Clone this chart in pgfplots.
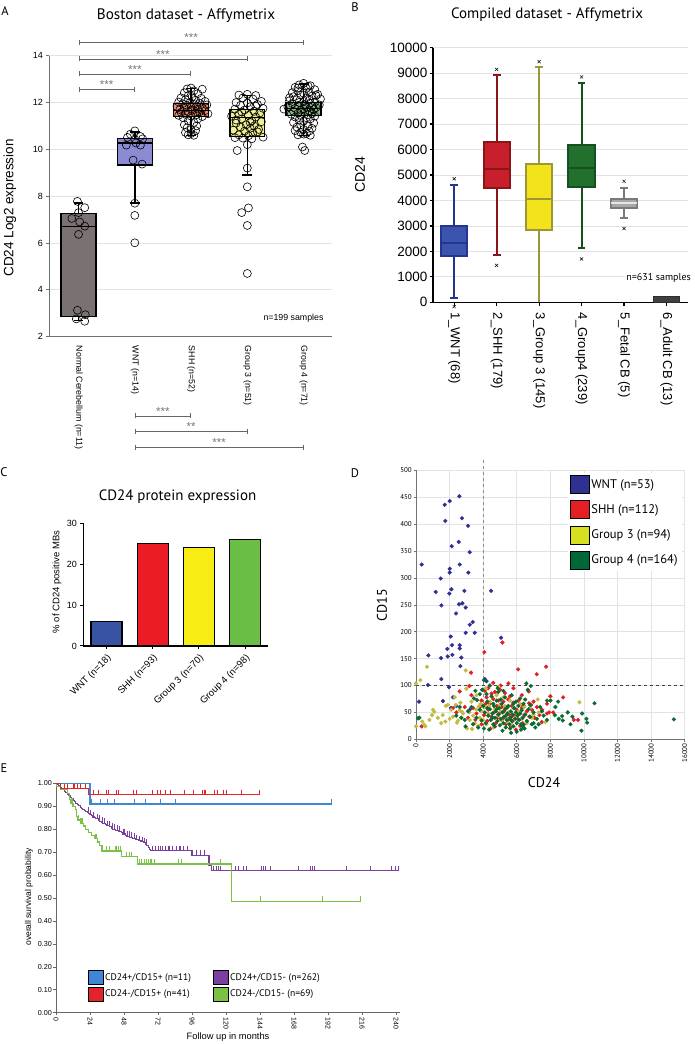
\documentclass[border=0pt]{standalone}
\usepackage{fontspec}
\setmainfont{Liberation Sans}
\newfontfamily\pts{PT Sans}
\usepackage{pgfplots}
\pgfplotsset{compat=1.18}
\usetikzlibrary{arrows.meta}
\newcommand{\fs}[1]{\fontsize{#1}{#1}\selectfont}
% colours
\definecolor{gridgray}{HTML}{E3E3E3}
\definecolor{axgray}{HTML}{707070}
\definecolor{boxgrayA}{HTML}{7A7272}
\definecolor{boxwntA}{HTML}{8B8BD3}
\definecolor{boxshhA}{HTML}{F0906F}
\definecolor{boxgthreeA}{HTML}{EFEF94}
\definecolor{boxgfourA}{HTML}{8FC290}
\definecolor{wntB}{HTML}{3C54AE}\definecolor{wntBd}{HTML}{26358F}
\definecolor{shhB}{HTML}{C71F2B}\definecolor{shhBd}{HTML}{8A1419}
\definecolor{gthreeB}{HTML}{F2E31B}\definecolor{gthreeBd}{HTML}{9C9838}
\definecolor{gfourB}{HTML}{22702D}\definecolor{gfourBd}{HTML}{17501F}
\definecolor{fetB}{HTML}{A8A8A8}\definecolor{fetBd}{HTML}{7A7A7A}
\definecolor{adB}{HTML}{404040}\definecolor{adBd}{HTML}{2E2E2E}
\definecolor{cBlue}{HTML}{3953A4}
\definecolor{cRed}{HTML}{EC1C24}
\definecolor{cYel}{HTML}{F7EC13}
\definecolor{cGrn}{HTML}{6ABD45}
\definecolor{dWnt}{HTML}{2E3192}
\definecolor{dShh}{HTML}{E31E24}
\definecolor{dGthree}{HTML}{C2BC3E}
\definecolor{dGthreeL}{HTML}{D7DF23}
\definecolor{dGfour}{HTML}{0B6B33}
\definecolor{dGfourL}{HTML}{006838}
\definecolor{eBlue}{HTML}{3F86D6}
\definecolor{eRed}{HTML}{E5232A}
\definecolor{ePur}{HTML}{7B3F9E}
\definecolor{eGrn}{HTML}{7BC143}

\pgfplotsset{every axis/.append style={scale only axis, anchor=south west,
  /pgf/number format/assume math mode=true}}
\tikzset{sigline/.style={draw=black!60, line width=0.6pt, {Bar[width=5pt]}-{Bar[width=5pt]}},
  star/.style={font=\fs{11.5}, text=black!55, inner sep=0.5pt}}

\begin{document}
\begin{tikzpicture}
\path[use as bounding box] (0pt,0pt) rectangle (694pt,1044pt);

% ---------------- labels and titles ----------------
\node[font=\pts\fs{12.5}] at (5pt,1032.5pt) {A};
\node[font=\pts\fs{12.5}] at (355pt,1037pt) {B};
\node[font=\pts\fs{12.5}] at (4pt,572pt) {C};
\node[font=\pts\fs{12.5}] at (355pt,571pt) {D};
\node[font=\pts\fs{12.5}] at (4pt,276pt) {E};
\node[font=\pts\fs{15.2}] at (186pt,1028pt) {Boston dataset - Affymetrix};
\node[font=\pts\fs{15}] at (547pt,1029pt) {Compiled dataset - Affymetrix};
\node[font=\pts\fs{15}] at (177.5pt,547pt) {CD24 protein expression};
\node[font=\fs{13.5}, rotate=90] at (10pt,836pt) {CD24 Log2 expression};
\node[font=\fs{14}, rotate=90] at (360pt,869pt) {CD24};
\node[font=\fs{9.5}, rotate=90] at (57pt,462pt) {\% of CD24 positive MBs};
\node[font=\pts\fs{14}, rotate=90] at (382pt,439pt) {CD15};
\node[font=\pts\fs{14}] at (544pt,261pt) {CD24};
\node[font=\fs{8.5}, rotate=90] at (29pt,147pt) {overall survival probability};
\node[font=\fs{9.3}] at (228pt,7pt) {Follow up in months};

% ---------------- Panel A ----------------
\begin{axis}[at={(49.3pt,707.3pt)}, width=282.4pt, height=281pt,
  xmin=-0.52, xmax=4.5, ymin=2, ymax=14,
  axis lines=left, axis line style={-},
  ytick={2,4,6,8,10,12,14}, xtick={0,1,2,3,4},
  xticklabels={Normal Cerebellum (n=11), WNT (n=14), SHH (n=52), Group 3 (n=51), Group 4 (n=71)},
  ymajorgrids, grid style={draw=gridgray, line width=0.8pt},
  tick align=outside, major tick length=3pt,
  xtick style={draw=none}, ytick style={draw=axgray, line width=0.8pt},
  y axis line style={draw=axgray, line width=0.8pt},
  x axis line style={draw=axgray, line width=1.2pt},
  xticklabel style={rotate=-90, anchor=west, font=\fs{8.8}, inner sep=1pt},
  xticklabel shift=5pt,
  yticklabel style={font=\fs{9}},
  unbounded coords=jump,
  clip=false]
% whiskers
\addplot[draw=black, line width=1.6pt] coordinates {(-0.08,2.7)(0.08,2.7)(0,nan)(0,2.7)(0,2.85)(0,nan)(0,7.27)(0,7.7)(0,nan)(-0.08,7.7)(0.08,7.7)};
\addplot[draw=black, line width=1.6pt] coordinates {(0.91,7.7)(1.09,7.7)(1,nan)(1,7.7)(1,9.33)(1,nan)(1,10.47)(1,10.75)(1,nan)(0.91,10.75)(1.09,10.75)};
\addplot[draw=black, line width=1.6pt] coordinates {(1.91,10.6)(2.09,10.6)(2,nan)(2,10.6)(2,11.4)(2,nan)(2,11.95)(2,12.6)(2,nan)(1.91,12.6)(2.09,12.6)};
\addplot[draw=black, line width=1.6pt] coordinates {(2.91,8.9)(3.09,8.9)(3,nan)(3,8.9)(3,10.55)(3,nan)(3,11.7)(3,12.3)(3,nan)(2.91,12.3)(3.09,12.3)};
\addplot[draw=black, line width=1.6pt] coordinates {(3.91,10.6)(4.09,10.6)(4,nan)(4,10.6)(4,11.45)(4,nan)(4,12.0)(4,12.8)(4,nan)(3.91,12.8)(4.09,12.8)};
% boxes
\addplot[draw=black, line width=1.3pt, fill=boxgrayA] coordinates {(-0.31,2.85)(0.31,2.85)(0.31,7.27)(-0.31,7.27)} -- cycle;
\addplot[draw=black, line width=1.3pt, fill=boxwntA] coordinates {(0.69,9.33)(1.31,9.33)(1.31,10.47)(0.69,10.47)} -- cycle;
\addplot[draw=black, line width=1.3pt, fill=boxshhA] coordinates {(1.69,11.4)(2.31,11.4)(2.31,11.95)(1.69,11.95)} -- cycle;
\addplot[draw=black, line width=1.3pt, fill=boxgthreeA] coordinates {(2.69,10.55)(3.31,10.55)(3.31,11.7)(2.69,11.7)} -- cycle;
\addplot[draw=black, line width=1.3pt, fill=boxgfourA] coordinates {(3.69,11.45)(4.31,11.45)(4.31,12.0)(3.69,12.0)} -- cycle;
% medians
\addplot[draw=black, line width=1.3pt] coordinates {(-0.31,6.7)(0.31,6.7)(0,nan)(0.69,10.27)(1.31,10.27)(1,nan)(1.69,11.65)(2.31,11.65)(2,nan)(2.69,11.35)(3.31,11.35)(3,nan)(3.69,11.75)(4.31,11.75)};
% points
\addplot[only marks, mark=o, mark size=4pt, mark options={draw=black, line width=0.6pt}] coordinates {
(-0.02,7.78)(0.11,7.51)(0.0,7.30)(-0.12,7.05)(0.02,6.90)(0.11,6.72)(0.0,6.37)(-0.02,3.13)(0.12,2.94)(-0.04,2.76)(0.11,2.66)
(1.0,10.79)(0.92,10.65)(1.1,10.55)(0.87,10.51)(1.0,10.44)(1.14,10.45)(1.02,10.27)(0.85,10.18)(1.1,10.18)(0.97,9.54)(1.13,9.37)(1.0,7.70)(1.0,7.18)(1.0,6.01)
(2.0,12.62)(1.93,12.58)(2.2,12.57)(2.05,12.5)(1.88,12.42)(2.12,12.38)(1.95,12.3)(2.02,12.25)(1.82,12.2)(2.18,12.18)(1.9,12.12)(2.08,12.1)(2.25,12.05)(1.78,12.02)(1.98,12.0)(2.15,11.98)(1.85,11.95)(2.05,11.92)(2.28,11.9)(1.92,11.88)(2.1,11.85)(1.75,11.82)(2.0,11.8)(2.2,11.78)(1.88,11.75)(2.12,11.72)(1.8,11.7)(2.03,11.68)(2.25,11.65)(1.95,11.62)(2.15,11.6)(1.82,11.58)(2.07,11.55)(2.3,11.52)(1.9,11.5)(2.1,11.48)(1.78,11.45)(2.0,11.42)(2.2,11.4)(1.86,11.35)(2.12,11.3)(1.95,11.22)(2.05,11.15)(1.88,11.05)(2.1,11.0)(1.93,10.92)(2.0,10.85)(2.08,10.8)(1.9,10.72)(2.0,10.68)(1.95,10.62)(2.05,10.6)
(3.0,12.35)(2.85,12.32)(3.15,12.3)(2.92,12.2)(3.1,12.15)(3.25,12.05)(2.8,12.0)(3.0,11.98)(3.18,11.92)(2.88,11.88)(3.05,11.82)(3.28,11.75)(2.78,11.72)(2.95,11.68)(3.12,11.62)(3.22,11.55)(2.85,11.5)(3.02,11.45)(2.72,11.42)(3.15,11.38)(2.9,11.3)(3.08,11.22)(3.25,11.18)(2.8,11.12)(2.98,11.05)(3.12,11.0)(2.88,10.95)(3.05,10.9)(3.2,10.85)(2.75,10.82)(2.95,10.78)(3.1,10.7)(2.85,10.62)(3.02,10.58)(3.28,10.52)(2.78,10.5)(2.92,10.48)(3.08,10.45)(3.0,10.2)(2.82,9.95)(3.0,9.2)(3.0,8.4)(2.9,7.3)(3.02,7.5)(3.0,6.75)(3.0,4.7)(3.15,11.85)(2.9,11.6)(3.05,11.15)(2.8,11.25)(3.18,10.75)
(4.0,12.82)(3.92,12.75)(4.12,12.72)(3.85,12.65)(4.05,12.6)(4.2,12.55)(3.9,12.5)(4.1,12.45)(3.8,12.42)(4.0,12.4)(4.25,12.35)(3.95,12.32)(4.15,12.28)(3.82,12.25)(4.05,12.2)(4.3,12.15)(3.88,12.12)(4.1,12.1)(3.75,12.08)(4.0,12.05)(4.2,12.02)(3.92,12.0)(4.12,11.98)(3.8,11.95)(4.02,11.92)(4.28,11.9)(3.9,11.88)(4.15,11.85)(3.72,11.82)(4.05,11.8)(4.22,11.78)(3.85,11.75)(4.0,11.72)(4.18,11.7)(3.65,11.72)(3.95,11.68)(4.1,11.65)(3.82,11.62)(4.25,11.6)(4.02,11.58)(3.9,11.55)(4.15,11.52)(3.78,11.5)(4.08,11.48)(3.95,11.45)(4.2,11.42)(3.85,11.38)(4.05,11.35)(4.12,11.3)(3.92,11.25)(4.0,11.2)(3.82,11.15)(4.18,11.12)(3.95,11.05)(4.08,11.0)(3.88,10.95)(4.15,10.9)(4.0,10.85)(3.85,10.8)(4.1,10.78)(3.95,10.72)(4.05,10.68)(3.9,10.62)(4.12,10.6)(4.0,10.65)(3.98,10.1)(4.02,9.95)(3.75,12.2)(4.22,12.3)(3.9,12.62)(4.08,12.7)
};
% significance
\draw[sigline] (axis cs:0,14.58) -- (axis cs:4,14.58) node[midway, above, star] {***};
\draw[sigline] (axis cs:0,13.86) -- (axis cs:3,13.86) node[midway, above, star] {***};
\draw[sigline] (axis cs:0,13.22) -- (axis cs:2,13.22) node[midway, above, star] {***};
\draw[sigline] (axis cs:0,12.55) -- (axis cs:1,12.55) node[midway, above, star] {***};
\draw[sigline] (axis cs:1,-1.38) -- (axis cs:2,-1.38) node[midway, above, star] {***};
\draw[sigline] (axis cs:1,-2.03) -- (axis cs:3,-2.03) node[midway, above, star] {**};
\draw[sigline] (axis cs:1,-2.72) -- (axis cs:4,-2.72) node[midway, above, star] {***};
\end{axis}
\node[font=\fs{8.8}, anchor=east] at (327pt,726pt) {n=199 samples};

% ---------------- Panel B ----------------
\begin{axis}[at={(433pt,741.7pt)}, width=254.7pt, height=254.6pt,
  xmin=0.5, xmax=6.5, ymin=0, ymax=10000,
  axis lines=left, axis line style={-, draw=black, line width=1.5pt},
  ytick={0,1000,2000,3000,4000,5000,6000,7000,8000,9000,10000}, xtick={1,2,3,4,5,6},
  xticklabels={1\_WNT (68), 2\_SHH (179), 3\_Group 3 (145), 4\_Group4 (239), 5\_Fetal CB (5), 6\_Adult CB (13)},
  scaled y ticks=false, /pgf/number format/1000 sep={},
  ymajorgrids, grid style={draw=gridgray, line width=0.8pt},
  tick align=outside, major tick length=3.5pt,
  tick style={draw=black, line width=1.2pt},
  xticklabel style={rotate=-90, anchor=west, font=\fs{13}, inner sep=1pt},
  xticklabel shift=6pt,
  yticklabel style={font=\fs{13.5}, inner sep=2pt},
  unbounded coords=jump,
  clip=false]
% whiskers
\addplot[draw=wntBd, line width=2pt] coordinates {(0.91,180)(1.09,180)(1,nan)(1,180)(1,1820)(1,nan)(1,2980)(1,4600)(1,nan)(0.91,4600)(1.09,4600)};
\addplot[draw=shhBd, line width=2pt] coordinates {(1.91,1850)(2.09,1850)(2,nan)(2,1850)(2,4480)(2,nan)(2,6280)(2,8930)(2,nan)(1.91,8930)(2.09,8930)};
\addplot[draw=gthreeBd, line width=2pt] coordinates {(3,0)(3,2850)(3,nan)(3,5420)(3,9230)(3,nan)(2.91,9230)(3.09,9230)};
\addplot[draw=gfourBd, line width=2pt] coordinates {(3.91,2120)(4.09,2120)(4,nan)(4,2120)(4,4530)(4,nan)(4,6180)(4,8600)(4,nan)(3.91,8600)(4.09,8600)};
\addplot[draw=fetBd, line width=2pt] coordinates {(4.91,3300)(5.09,3300)(5,nan)(5,3300)(5,3720)(5,nan)(5,4060)(5,4500)(5,nan)(4.91,4500)(5.09,4500)};
% boxes
\addplot[draw=wntBd, line width=2pt, fill=wntB] coordinates {(0.69,1820)(1.31,1820)(1.31,2980)(0.69,2980)} -- cycle;
\addplot[draw=shhBd, line width=2pt, fill=shhB] coordinates {(1.69,4480)(2.31,4480)(2.31,6280)(1.69,6280)} -- cycle;
\addplot[draw=gthreeBd, line width=2pt, fill=gthreeB] coordinates {(2.69,2850)(3.31,2850)(3.31,5420)(2.69,5420)} -- cycle;
\addplot[draw=gfourBd, line width=2pt, fill=gfourB] coordinates {(3.69,4530)(4.31,4530)(4.31,6180)(3.69,6180)} -- cycle;
\addplot[draw=fetBd, line width=2pt, fill=fetB] coordinates {(4.69,3720)(5.31,3720)(5.31,4060)(4.69,4060)} -- cycle;
\addplot[draw=adBd, line width=1.5pt, fill=adB] coordinates {(5.69,0)(6.31,0)(6.31,230)(5.69,230)} -- cycle;
% medians
\addplot[draw=wntBd, line width=2pt] coordinates {(0.69,2330)(1.31,2330)};
\addplot[draw=shhBd, line width=2pt] coordinates {(1.69,5230)(2.31,5230)};
\addplot[draw=gthreeBd, line width=2pt] coordinates {(2.69,4060)(3.31,4060)};
\addplot[draw=gfourBd, line width=2pt] coordinates {(3.69,5270)(4.31,5270)};
\addplot[draw=white!80!gray, line width=1.5pt] coordinates {(4.69,3900)(5.31,3900)};
% outliers
\addplot[only marks, mark=x, mark size=2.2pt, mark options={draw=black, line width=0.5pt}] coordinates {
(1,4850)(1,-170)(2,9150)(2,1450)(3,9450)(4,8850)(4,1700)(5,4750)(5,2900)};
\end{axis}
\node[font=\pts\fs{10}, anchor=east, fill=white, inner sep=1pt] at (692pt,765.7pt) {n=631 samples};

% ---------------- Panel C ----------------
\begin{axis}[at={(83.3pt,398pt)}, width=185pt, height=122.7pt,
  xmin=-0.5, xmax=3.5, ymin=0, ymax=30,
  axis lines=left, axis line style={-, draw=black, line width=1.3pt},
  ytick={0,10,20,30}, xtick={0,1,2,3},
  xticklabels={WNT (n=18), SHH (n=93), Group 3 (n=70), Group 4 (n=98)},
  tick align=outside, major tick length=3pt,
  tick style={draw=black, line width=1pt},
  xticklabel style={rotate=45, anchor=north east, font=\fs{9.6}, inner sep=1pt},
  xticklabel shift=3pt,
  yticklabel style={font=\fs{9}},
  clip=false]
\addplot[ybar, bar shift=0pt, bar width=31pt, fill=cBlue, draw=black, line width=1.2pt] coordinates {(0,6)};
\addplot[ybar, bar shift=0pt, bar width=31pt, fill=cRed, draw=black, line width=1.2pt] coordinates {(1,25)};
\addplot[ybar, bar shift=0pt, bar width=31pt, fill=cYel, draw=black, line width=1.2pt] coordinates {(2,24)};
\addplot[ybar, bar shift=0pt, bar width=31pt, fill=cGrn, draw=black, line width=1.2pt] coordinates {(3,26)};
\end{axis}

% ---------------- Panel D ----------------
\begin{axis}[at={(416pt,304.7pt)}, width=268.7pt, height=268.9pt,
  xmin=0, xmax=16000, ymin=0, ymax=500,
  axis lines=left, axis line style={-, draw=black!55, line width=0.8pt},
  xtick={0,2000,4000,6000,8000,10000,12000,14000,16000}, ytick={0,50,100,150,200,250,300,350,400,450,500},
  scaled ticks=false, /pgf/number format/1000 sep={},
  grid=major, grid style={draw=gridgray, line width=0.6pt},
  tick align=outside, major tick length=2.5pt,
  tick style={draw=black!55, line width=0.6pt},
  xticklabel style={rotate=90, anchor=east, font=\pts\fs{7}, inner sep=1.5pt},
  yticklabel style={font=\pts\fs{7}, inner sep=1.5pt},
  legend image code/.code={\fill[#1] (0pt,-9pt) rectangle (18.7pt,9pt);},
  legend style={at={(0.566,0.99)}, anchor=north west, draw=none, fill=white,
    font=\pts\fs{12.5}, row sep=6.8pt, inner sep=2pt},
  legend cell align=left,
  clip=false]
\addplot[forget plot, draw=black!45, dashed, line width=0.7pt] coordinates {(4000,0)(4000,520)};
\addplot[forget plot, draw=black!75, dashed, line width=0.7pt] coordinates {(0,100)(16000,100)};
\addplot[forget plot, only marks, mark=*, mark size=1.9pt, color=dWnt] coordinates {
(2582,452)(1708,436)(2006,443)(1748,406)(2741,411)(3098,397)(2125,359)(2542,367)(3197,348)(338,325)(2602,325)(2006,317)(2006,310)(3118,310)(1470,299)(2105,279)(1172,274)(1986,271)(2880,276)(4469,276)(1509,249)(2562,251)(2761,253)(2959,245)(2383,234)(3197,213)(3376,218)(2959,198)(3495,198)(5064,189)(2065,191)(2145,175)(2602,175)(2602,169)(1867,168)(735,156)(1887,154)(2165,157)(2701,152)(1490,151)(2642,136)(1509,112)(715,101)(1966,97)(4091,112)(179,70)(1609,71)(2204,78)(2085,58)(3950,92)(3200,55)(2400,62)(4200,108)};
\addplot[forget plot, only marks, mark=*, mark size=1.9pt, color=dShh] coordinates {
(4071,162)(5144,180)(6078,130)(7747,135)(7190,121)(3277,124)(3178,99)(5501,104)(6713,89)(8759,78)(2602,89)(338,24)(3535,36)(6733,67)(7925,50)(8163,50)(9394,36)(9652,36)(7488,32)(4100,90)(4300,95)(4500,85)(4700,88)(5000,92)(5300,86)(5600,80)(4200,78)(4600,75)(4900,72)(5200,70)(5500,74)(5800,68)(6100,72)(6400,63)(4400,66)(4800,62)(5100,60)(5400,58)(5700,62)(6000,55)(6300,58)(6600,52)(4300,55)(4650,50)(4950,48)(5250,52)(5550,46)(5850,44)(6150,48)(6450,45)(6750,42)(7050,40)(4500,42)(4850,40)(5150,38)(5450,36)(5750,34)(6050,38)(6350,30)(3800,60)(3600,48)(3900,72)(3400,58)(4050,45)(2900,60)(3100,40)(7200,60)(7500,55)(7800,48)(7000,70)(6900,55)(5350,28)(5650,24)(4750,30)(6200,25)(4450,20)(5950,18)(6850,64)(7350,45)(3900,28)(4250,34)(8000,80)(5050,100)(4600,105)(5800,95)(6300,82)(4150,66)(3300,82)(2200,58)(2400,50)(5700,42)(7800,66)};
\addplot[forget plot, only marks, mark=*, mark size=1.9pt, color=dGthree] coordinates {
(655,135)(258,110)(0,104)(0,24)(377,33)(496,27)(556,24)(1013,55)(1092,51)(953,45)(1768,62)(1887,64)(1589,45)(1748,33)(2304,78)(2363,64)(2959,128)(2999,94)(2642,68)(2741,51)(2701,40)(2443,31)(3039,20)(3337,19)(3197,36)(3178,50)(3595,55)(3734,61)(7250,74)(9731,69)(7706,32)(1300,40)(2100,55)(2500,35)(3400,44)(3800,40)(3900,52)(4100,60)(4300,48)(4500,38)(4700,56)(4900,44)(5100,35)(5300,62)(5500,50)(5700,28)(5900,40)(6100,52)(6300,38)(6500,47)(4200,28)(4600,22)(5000,64)(5400,40)(5800,58)(6200,66)(6600,30)(7000,46)(4400,70)(4800,82)(5200,78)(5600,72)(3600,82)(4000,36)(3500,30)(4150,95)(4900,98)(6900,40)(3700,25)(2800,48)(2200,42)(1500,30)(800,36)(2000,38)(6800,58)(5500,30)(4350,62)(3850,66)(3300,70)(2600,54)(7300,50)(5050,52)(6450,60)};
\addplot[forget plot, only marks, mark=*, mark size=1.9pt, color=dGfour] coordinates {
(15354,37)(10626,67)(9890,48)(9850,16)(10149,38)(10189,31)(9037,50)(8461,70)(7806,72)(8005,72)(8263,45)(8700,43)(8739,35)(9315,42)(6574,104)(6832,99)(4866,95)(4050,110)(119,39)(200,40)(3535,90)(3635,73)(6455,20)(6415,27)(5660,12)
(3600,40)(3800,55)(3900,35)(4000,62)(4100,50)(4150,30)(4250,70)(4300,44)(4400,56)(4450,36)(4500,80)(4550,48)(4600,28)(4650,62)(4700,40)(4750,52)(4800,72)(4850,34)(4900,46)(4950,58)(5000,26)(5050,38)(5100,66)(5150,50)(5200,30)(5250,42)(5300,56)(5350,22)(5400,36)(5450,48)(5500,62)(5550,28)(5600,40)(5650,52)(5700,34)(5750,46)(5800,24)(5850,58)(5900,38)(5950,50)(6000,30)(6050,44)(6100,62)(6150,36)(6200,48)(6250,28)(6300,54)(6350,40)(6400,66)(6500,46)(6600,34)(6700,56)(6800,42)(6900,28)(7000,50)(7100,22)(7200,38)(7400,60)(7600,44)(3300,60)(3100,52)(2900,36)(2700,40)(2600,60)(3400,28)(3700,22)(4050,20)(4350,18)(4700,24)(5150,16)(5600,20)(6250,18)(4200,84)(4900,88)(5300,78)(5700,82)(6200,76)(6650,92)(3950,92)(7000,30)(7300,28)(7500,52)(8300,60)(8500,38)(9200,28)(5450,60)(5050,74)(4600,66)(4250,58)(5950,70)(6500,74)(5200,90)(4400,100)(3800,84)(3450,76)(2400,44)(2950,24)(6000,14)(5800,66)(4800,56)(5350,44)(6800,64)(7800,36)(6350,24)(4550,40)(5650,36)};
\addlegendimage{fill=dWnt}\addlegendentry{WNT (n=53)}
\addlegendimage{fill=dShh}\addlegendentry{SHH (n=112)}
\addlegendimage{fill=dGthreeL}\addlegendentry{Group 3 (n=94)}
\addlegendimage{fill=dGfourL}\addlegendentry{Group 4 (n=164)}
\end{axis}

% ---------------- Panel E ----------------
\begin{axis}[at={(56pt,31.3pt)}, width=344.2pt, height=229.4pt,
  xmin=0, xmax=243, ymin=0, ymax=1.0,
  axis lines=left, axis line style={-, draw=black!60, line width=0.8pt},
  xtick={0,24,48,72,96,120,144,168,192,216,240}, ytick={0,0.1,0.2,0.3,0.4,0.5,0.6,0.7,0.8,0.9,1.0},
  tick align=outside, major tick length=2.5pt,
  tick style={draw=black!60, line width=0.6pt},
  xticklabel style={rotate=-90, anchor=west, font=\fs{7}, inner sep=0.5pt},
  xticklabel shift=1.5pt,
  yticklabel style={font=\fs{7.2}, inner sep=1.5pt, /pgf/number format/.cd, fixed, fixed zerofill, precision=2},
  legend image code/.code={\fill[#1] (0pt,-7pt) rectangle (14.5pt,7pt);},
  legend columns=2,
  legend style={at={(0.09,0.19)}, anchor=north west, draw=none, fill=none,
    font=\pts\fs{9.6}, row sep=2pt, inner sep=1pt,
    /tikz/every even column/.append style={column sep=20pt}},
  legend cell align=left,
  clip=false]
\addplot[forget plot, const plot, draw=ePur, line width=1.1pt] coordinates {
(0,1.000)(1,0.995)(2,0.990)(3,0.983)(4,0.978)(5,0.972)(6,0.965)(7,0.958)(8,0.952)(9,0.945)(10,0.940)(11,0.932)(12,0.926)(13,0.920)(14,0.913)(15,0.907)(16,0.902)(17,0.896)(18,0.892)(19,0.887)(20,0.882)(21,0.878)(22,0.873)(23,0.868)(24,0.863)(25,0.858)(26,0.853)(27,0.849)(28,0.845)(30,0.840)(31,0.835)(32,0.830)(33,0.826)(35,0.820)(36,0.815)(38,0.810)(39,0.804)(40,0.800)(42,0.795)(44,0.790)(46,0.785)(47,0.779)(49,0.774)(50,0.769)(52,0.765)(54,0.760)(56,0.755)(58,0.750)(60,0.746)(62,0.740)(63,0.735)(64,0.728)(65,0.720)(66,0.712)(67,0.706)(96,0.686)(108,0.640)(110,0.618)(242,0.618)};
\addplot[forget plot, only marks, mark=|, mark size=2.5pt, mark options={draw=ePur, line width=0.7pt, yshift=2.5pt}] coordinates {
(22.5,0.873)(24.5,0.863)(26.5,0.853)(29,0.845)(30.5,0.840)(32.5,0.830)(34,0.826)(36.5,0.815)(37.5,0.815)(39.5,0.804)(41,0.800)(43,0.795)(45,0.790)(47.5,0.779)(48.5,0.779)(50.5,0.769)(51.5,0.769)(53,0.765)(55,0.760)(57,0.755)(59,0.750)(61,0.746)(62.5,0.740)(63.5,0.735)(68,0.706)(70,0.706)(72,0.706)(74,0.706)(75,0.706)(77,0.706)(79,0.706)(80,0.706)(82,0.706)(85,0.706)(87,0.706)(88,0.706)(90,0.706)(93,0.706)(99,0.686)(101.6,0.686)(104.5,0.686)(111,0.618)(113.4,0.618)(114.6,0.618)(115.8,0.618)(126.4,0.618)(128.7,0.618)(132.3,0.618)(134.6,0.618)(145.2,0.618)(146.4,0.618)(147.5,0.618)(151.1,0.618)(171.1,0.618)(179.3,0.618)(181,0.618)(182.4,0.618)(205.3,0.618)(221.7,0.618)(237,0.618)(239.3,0.618)(242,0.618)};
\addplot[forget plot, const plot, draw=eGrn, line width=1.1pt] coordinates {
(0,1.000)(0.5,0.985)(3,0.972)(8,0.955)(9.5,0.928)(10.5,0.913)(12,0.900)(14,0.885)(14.6,0.855)(15.5,0.840)(17,0.826)(19.5,0.814)(21,0.800)(23,0.787)(25,0.772)(27,0.758)(29,0.744)(31,0.730)(32.5,0.705)(46.4,0.680)(57.4,0.648)(124,0.485)(215,0.485)};
\addplot[forget plot, only marks, mark=|, mark size=2.5pt, mark options={draw=eGrn, line width=0.7pt, yshift=2.5pt}] coordinates {
(11,0.913)(11.5,0.913)(16,0.840)(17.5,0.826)(18,0.826)(18.7,0.826)(28,0.758)(28.5,0.758)(35.8,0.705)(37.6,0.705)(41.6,0.705)(42.8,0.705)(44,0.705)(45.2,0.705)(49.9,0.680)(51.5,0.680)(53.4,0.680)(58.5,0.648)(60.5,0.648)(62.1,0.648)(64,0.648)(65.2,0.648)(66.4,0.648)(67.6,0.648)(69.3,0.648)(86.4,0.648)(88.8,0.648)(116.3,0.648)(144,0.485)(188,0.485)(215,0.485)};
\addplot[forget plot, const plot, draw=eBlue, line width=1.3pt] coordinates {(0,1.0)(24,0.91)(194.6,0.91)};
\addplot[forget plot, only marks, mark=|, mark size=2.5pt, mark options={draw=eBlue, line width=0.7pt, yshift=2.5pt}] coordinates {
(25.2,0.91)(31.1,0.91)(36.2,0.91)(41.2,0.91)(55.1,0.91)(63.3,0.91)(73.4,0.91)(84.5,0.91)(194.6,0.91)};
\addplot[forget plot, const plot, draw=eRed, line width=1.2pt] coordinates {(0,1.0)(3,0.976)(23,0.951)(143.5,0.951)};
\addplot[forget plot, only marks, mark=|, mark size=2.5pt, mark options={draw=eRed, line width=0.7pt, yshift=2.5pt}] coordinates {
(6,0.976)(8,0.976)(12,0.976)(13,0.976)(15,0.976)(17,0.976)(21,0.976)(26.4,0.951)(30,0.951)(35.5,0.951)(37.2,0.951)(42.4,0.951)(44,0.951)(54.6,0.951)(57,0.951)(68.2,0.951)(71.5,0.951)(73.9,0.951)(77,0.951)(81,0.951)(90.4,0.951)(97,0.951)(103.3,0.951)(104.5,0.951)(105.6,0.951)(111.5,0.951)(113.9,0.951)(118,0.951)(120.5,0.951)(131,0.951)(143.5,0.951)};
\addlegendimage{fill=eBlue}\addlegendentry{CD24+/CD15+ (n=11)}
\addlegendimage{fill=ePur}\addlegendentry{CD24+/CD15- (n=262)}
\addlegendimage{fill=eRed}\addlegendentry{CD24-/CD15+ (n=41)}
\addlegendimage{fill=eGrn}\addlegendentry{CD24-/CD15- (n=69)}
\end{axis}
\end{tikzpicture}
\end{document}
